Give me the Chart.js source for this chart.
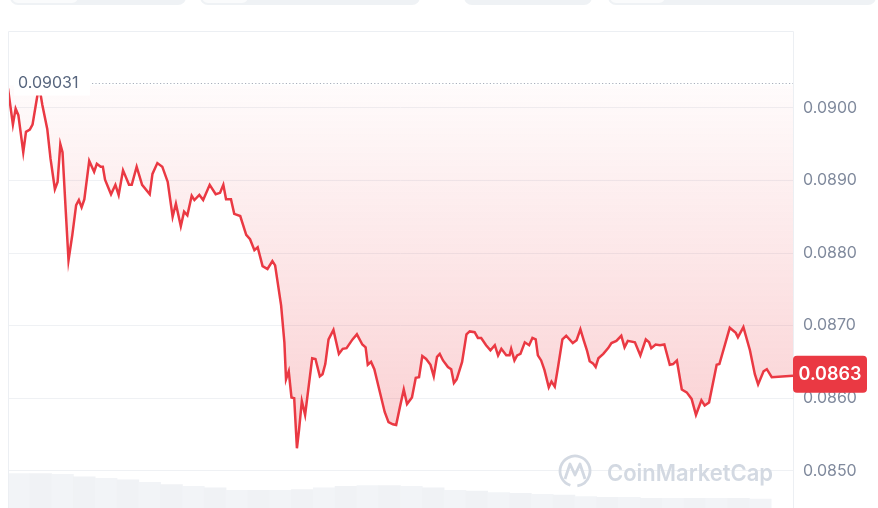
<!DOCTYPE html>
<html>
<head>
<meta charset="utf-8">
<script src="https://cdn.jsdelivr.net/npm/chart.js@4.4.1/dist/chart.umd.min.js"></script>
<style>
  html, body { margin: 0; padding: 0; background: #fff; overflow: hidden; }
  body { width: 878px; height: 508px; position: relative; font-family: Inter, "Noto Sans", sans-serif; }
  .pill { position: absolute; top: -26px; height: 31px; background: #eff2f5; border-radius: 8px; }
  .seg { position: absolute; left: 2px; top: 0; bottom: 2px; background: #fafbfc; border-radius: 6px; }
  #wrap { position: absolute; left: 0; top: 0; width: 878px; height: 560px; }
</style>
</head>
<body>
<div class="pill" style="left:10px;width:176px"><div class="seg" style="width:66px"></div></div>
<div class="pill" style="left:200px;width:220px"><div class="seg" style="width:46px"></div></div>
<div class="pill" style="left:464px;width:128px"></div>
<div class="pill" style="left:608px;width:268px"><div class="seg" style="width:55px"></div></div>
<div id="wrap"><canvas id="chart" width="878" height="560"></canvas></div>
<script>
// --- Data (minutes since start of the 24h window, price in USD) ---
const times = [0, 9, 14, 19, 28, 33, 40, 45, 51, 57,
  63, 72, 78, 86, 91, 96, 100, 106, 111, 118,
  125, 130, 135, 140, 149, 158, 163, 170, 174, 178,
  189, 197, 203, 211, 222, 227, 236, 246, 260, 265,
  274, 283, 293, 302, 308, 317, 323, 329, 337, 342,
  351, 358, 370, 381, 389, 395, 400, 409, 415, 426,
  437, 444, 452, 458, 467, 476, 485, 490, 501, 507,
  510, 515, 520, 525, 530, 534, 539, 545, 558, 564,
  572, 577, 582, 588, 597, 607, 614, 621, 632, 640,
  650, 656, 660, 666, 672, 681, 691, 698, 706, 712,
  719, 726, 732, 741, 748, 754, 760, 767, 775, 781,
  787, 792, 798, 807, 813, 818, 823, 833, 841, 847,
  856, 862, 868, 877, 885, 893, 899, 905, 914, 920,
  923, 929, 934, 940, 948, 956, 962, 968, 972, 978,
  984, 992, 997, 1003, 1009, 1017, 1024, 1036, 1043, 1050,
  1056, 1062, 1067, 1073, 1078, 1083, 1092, 1101, 1107, 1116,
  1125, 1131, 1137, 1150, 1160, 1170, 1176, 1180, 1188, 1196,
  1204, 1214, 1220, 1227, 1236, 1245, 1254, 1262, 1272, 1278,
  1286, 1300, 1305, 1324, 1335, 1339, 1349, 1361, 1370, 1376,
  1386, 1392, 1401, 1440];

const prices = [0.09027, 0.08977, 0.08999, 0.08990, 0.08939, 0.08967, 0.08970, 0.08977, 0.09004, 0.09031,
  0.09004, 0.08971, 0.08930, 0.08888, 0.08898, 0.08950, 0.08939, 0.08857, 0.08790, 0.08825,
  0.08866, 0.08873, 0.08863, 0.08874, 0.08927, 0.08912, 0.08923, 0.08919, 0.08919, 0.08901,
  0.08881, 0.08894, 0.08880, 0.08914, 0.08894, 0.08894, 0.08919, 0.08894, 0.08881, 0.08909,
  0.08924, 0.08919, 0.08898, 0.08850, 0.08868, 0.08837, 0.08857, 0.08852, 0.08879, 0.08873,
  0.08880, 0.08873, 0.08894, 0.08881, 0.08883, 0.08894, 0.08874, 0.08874, 0.08854, 0.08851,
  0.08825, 0.08819, 0.08804, 0.08808, 0.08782, 0.08778, 0.08789, 0.08783, 0.08728, 0.08677,
  0.08626, 0.08637, 0.08601, 0.08600, 0.08531, 0.08557, 0.08596, 0.08577, 0.08655, 0.08654,
  0.08630, 0.08633, 0.08647, 0.08681, 0.08694, 0.08661, 0.08668, 0.08669, 0.08681, 0.08688,
  0.08674, 0.08670, 0.08646, 0.08650, 0.08640, 0.08612, 0.08581, 0.08567, 0.08564, 0.08563,
  0.08588, 0.08612, 0.08592, 0.08601, 0.08628, 0.08629, 0.08658, 0.08654, 0.08646, 0.08630,
  0.08657, 0.08661, 0.08652, 0.08643, 0.08640, 0.08621, 0.08626, 0.08650, 0.08688, 0.08692,
  0.08691, 0.08683, 0.08683, 0.08673, 0.08666, 0.08673, 0.08659, 0.08668, 0.08659, 0.08659,
  0.08668, 0.08652, 0.08659, 0.08661, 0.08677, 0.08673, 0.08683, 0.08681, 0.08659, 0.08652,
  0.08639, 0.08615, 0.08623, 0.08616, 0.08643, 0.08681, 0.08686, 0.08676, 0.08680, 0.08695,
  0.08680, 0.08666, 0.08651, 0.08648, 0.08643, 0.08655, 0.08661, 0.08669, 0.08676, 0.08679,
  0.08686, 0.08670, 0.08679, 0.08677, 0.08659, 0.08681, 0.08677, 0.08669, 0.08674, 0.08673,
  0.08674, 0.08646, 0.08647, 0.08652, 0.08612, 0.08608, 0.08599, 0.08577, 0.08597, 0.08590,
  0.08594, 0.08646, 0.08647, 0.08697, 0.08690, 0.08684, 0.08698, 0.08666, 0.08633, 0.08619,
  0.08637, 0.08640, 0.08629, 0.08631];

// volume bars (relative units), every 40 minutes
const volTimes = [20, 60, 100, 140, 180, 220, 260, 300, 340, 380, 420, 460, 500, 540, 580, 620, 660, 700,
  740, 780, 820, 860, 900, 940, 980, 1020, 1060, 1100, 1140, 1180, 1220, 1260, 1300, 1340, 1380];
const volumes = [4.2, 4.2, 4.15, 4.0, 3.9, 3.8, 3.65, 3.5, 3.4, 3.3, 3.15, 3.15, 3.15, 3.2, 3.3, 3.4, 3.45, 3.45,
  3.4, 3.3, 3.15, 3.1, 3.0, 2.95, 2.9, 2.85, 2.75, 2.7, 2.7, 2.65, 2.65, 2.65, 2.65, 2.65, 2.6];

const yTicks = [0.0850, 0.0860, 0.0870, 0.0880, 0.0890, 0.0900];
const openPrice = 0.09031;

const RED = '#ea3943';
const FONT = 'Inter, "Noto Sans", sans-serif';

// --- Decorations: frame, open price line, watermark, price tag ---
const decor = {
  id: 'decor',
  beforeDatasetsDraw(chart) {
    const { ctx } = chart;
    ctx.save();
    // watermark
    ctx.strokeStyle = '#d3d9e2';
    ctx.fillStyle = '#d3d9e2';
    ctx.lineWidth = 2.8;
    ctx.lineJoin = 'round';
    ctx.beginPath();
    ctx.arc(575, 471, 15, 0.6 * Math.PI, 2.45 * Math.PI);
    ctx.stroke();
    ctx.beginPath();
    ctx.moveTo(565, 479);
    ctx.lineTo(570, 464);
    ctx.lineTo(575, 475);
    ctx.lineTo(580, 464);
    ctx.lineTo(585, 479);
    ctx.stroke();
    ctx.font = '600 23px ' + FONT;
    ctx.textBaseline = 'alphabetic';
    ctx.textAlign = 'left';
    ctx.fillText('CoinMarketCap', 607, 481, 166);
    ctx.restore();
  },
  afterDatasetsDraw(chart) {
    const { ctx, chartArea: a, scales } = chart;
    const y = Math.round(scales.y.getPixelForValue(openPrice)) - 1.5;
    ctx.save();
    // dotted open price line
    ctx.strokeStyle = '#a9b0bc';
    ctx.lineWidth = 1.2;
    ctx.setLineDash([1.2, 2.2]);
    ctx.beginPath();
    ctx.moveTo(92, y);
    ctx.lineTo(a.right, y);
    ctx.stroke();
    ctx.setLineDash([]);
    // open price label
    ctx.font = '16px ' + FONT;
    ctx.fillStyle = '#fff';
    ctx.fillRect(14, y - 10, 76, 22);
    ctx.fillStyle = '#58667e';
    ctx.textBaseline = 'middle';
    ctx.fillText(openPrice.toFixed(5), 18, y);
    ctx.restore();
  },
  afterDraw(chart) {
    const { ctx, chartArea: a, scales } = chart;
    ctx.save();
    // frame
    ctx.strokeStyle = '#eceff3';
    ctx.lineWidth = 1;
    ctx.beginPath();
    ctx.moveTo(a.left + 0.5, a.bottom);
    ctx.lineTo(a.left + 0.5, a.top + 0.5);
    ctx.lineTo(a.right + 0.5, a.top + 0.5);
    ctx.lineTo(a.right + 0.5, a.bottom);
    ctx.stroke();
    // current price tag
    const last = prices[prices.length - 1];
    const py = scales.y.getPixelForValue(last);
    ctx.fillStyle = RED;
    ctx.beginPath();
    ctx.roundRect(a.right, py - 20, 74, 37, 4);
    ctx.fill();
    ctx.fillStyle = '#fff';
    ctx.font = '600 18px ' + FONT;
    ctx.textAlign = 'center';
    ctx.textBaseline = 'middle';
    ctx.fillText(last.toFixed(4), a.right + 37, py - 1);
    ctx.restore();
  }
};

const ctx = document.getElementById('chart').getContext('2d');

new Chart(ctx, {
  type: 'line',
  data: {
    datasets: [{
      type: 'line',
      data: prices.map((p, i) => ({ x: times[i], y: p })),
      borderColor: RED,
      borderWidth: 2.5,
      pointRadius: 0,
      tension: 0,
      order: 1,
      yAxisID: 'y',
      fill: { target: { value: openPrice } },
      backgroundColor: (c) => {
        const { chart } = c;
        const { chartArea, scales } = chart;
        if (!chartArea) return 'rgba(234,57,67,0.1)';
        const y0 = scales.y.getPixelForValue(openPrice);
        const y1 = scales.y.getPixelForValue(Math.min(...prices));
        const g = chart.ctx.createLinearGradient(0, y0, 0, y1);
        g.addColorStop(0, 'rgba(234,57,67,0.02)');
        g.addColorStop(1, 'rgba(234,57,67,0.24)');
        return g;
      }
    }, {
      type: 'bar',
      data: volumes.map((v, i) => ({ x: volTimes[i], y: v })),
      backgroundColor: volumes.map((v, i) => i % 2 ? '#f0f2f5' : '#f2f4f7'),
      borderWidth: 0,
      barPercentage: 1,
      categoryPercentage: 1,
      order: 2,
      yAxisID: 'yv'
    }]
  },
  options: {
    responsive: false,
    animation: false,
    devicePixelRatio: 1,
    layout: { padding: { top: 31, left: 8, right: 0, bottom: 0 } },
    plugins: { legend: { display: false }, tooltip: { enabled: false } },
    scales: {
      x: {
        type: 'linear',
        min: 0,
        max: 1440,
        offset: false,
        display: false
      },
      y: {
        position: 'right',
        min: 0.08404,
        max: 0.09106,
        afterBuildTicks: (s) => { s.ticks = yTicks.map(v => ({ value: v })); },
        afterFit: (s) => { s.width = 85; },
        border: { display: false },
        grid: { color: '#eff1f4', lineWidth: 1, drawTicks: false },
        ticks: {
          padding: 10,
          color: '#808a9d',
          font: { family: FONT, size: 16 },
          callback: (v) => Number(v).toFixed(4)
        }
      },
      yv: {
        display: false,
        min: 0,
        max: 32
      }
    }
  },
  plugins: [decor]
});
</script>
</body>
</html>
